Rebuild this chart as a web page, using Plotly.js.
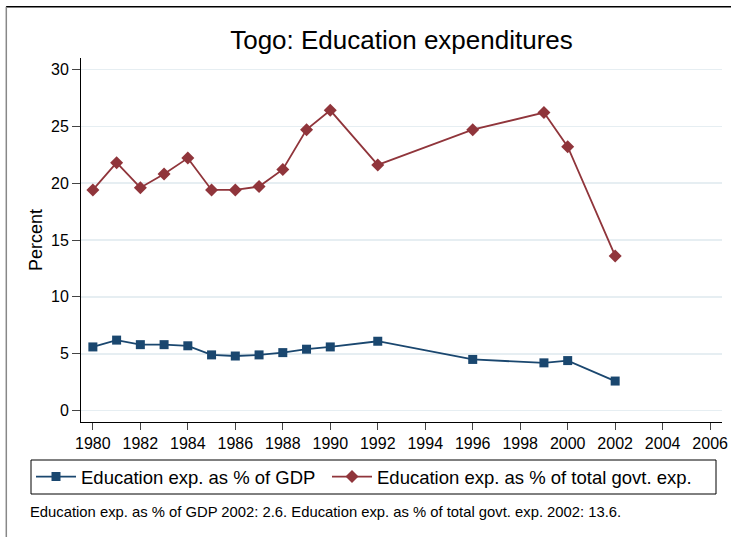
<!DOCTYPE html>
<html>
<head>
<meta charset="utf-8">
<script src="https://cdn.plot.ly/plotly-3.0.1.min.js"></script>
<style>html,body{margin:0;padding:0;background:#fff;}#chart{width:731px;height:537px;}</style>
</head>
<body>
<div id="chart"></div>
<script>
var yearsGdp = [1980,1981,1982,1983,1984,1985,1986,1987,1988,1989,1990,1992,1996,1999,2000,2002];
var eduGdp   = [5.6,6.2,5.8,5.8,5.7,4.9,4.8,4.9,5.1,5.4,5.6,6.1,4.5,4.2,4.4,2.6];
var yearsGov = [1980,1981,1982,1983,1984,1985,1986,1987,1988,1989,1990,1992,1996,1999,2000,2002];
var eduGov   = [19.4,21.8,19.6,20.8,22.2,19.4,19.4,19.7,21.2,24.7,26.4,21.6,24.7,26.2,23.2,13.6];
var xTicks = [1980,1982,1984,1986,1988,1990,1992,1994,1996,1998,2000,2002,2004,2006];
var yTicks = [0,5,10,15,20,25,30];
var seriesNames = ["Education exp. as % of GDP","Education exp. as % of total govt. exp."];
var noteText = "Education exp. as % of GDP 2002: 2.6. Education exp. as % of total govt. exp. 2002: 13.6.";
var titleText = "Togo: Education expenditures";

var FONT = "Liberation Sans, Arial, sans-serif";
var navy = "#1a476f", maroon = "#90353b";

var traces = [
  {x: yearsGdp, y: eduGdp, name: seriesNames[0], type: "scatter", mode: "lines+markers", legend: "legend",
   line: {color: navy, width: 1.8}, marker: {symbol: "square", size: 9, color: navy}},
  {x: yearsGov, y: eduGov, name: seriesNames[1], type: "scatter", mode: "lines+markers", legend: "legend2",
   line: {color: maroon, width: 1.8}, marker: {symbol: "diamond", size: 10, color: maroon}}
];

function px2x(p) { return (p - 81) / 641; }
function px2y(p) { return (422 - p) / 364; }

var legendCommon = {orientation: "h", xanchor: "left", y: px2y(477), yanchor: "middle",
  borderwidth: 0, bgcolor: "rgba(0,0,0,0)", font: {family: FONT, size: 18.5, color: "#000"}, itemwidth: 40};

var layout = {
  width: 731, height: 537,
  margin: {l: 81, r: 9, t: 58, b: 115},
  paper_bgcolor: "#fff", plot_bgcolor: "#fff",
  font: {family: FONT, color: "#000"},
  showlegend: true,
  title: {text: titleText, x: 0.5, xref: "paper", xanchor: "center", y: 1 - 40/537, yref: "container", yanchor: "middle",
          font: {family: FONT, size: 26, color: "#000"}},
  xaxis: {range: [1979.5, 2006.5], tickmode: "array", tickvals: xTicks, ticktext: xTicks.map(String),
          showgrid: false, zeroline: false, showline: true, linecolor: "#000", linewidth: 1,
          ticks: "outside", ticklen: 7, tickcolor: "#444", tickwidth: 1,
          tickfont: {family: FONT, size: 16, color: "#000"}},
  yaxis: {range: [-1, 31], tickmode: "array", tickvals: yTicks, ticktext: yTicks.map(String),
          showgrid: true, gridcolor: "#e6eef2", gridwidth: 1.5, zeroline: false,
          showline: true, linecolor: "#000", linewidth: 1,
          ticks: "outside", ticklen: 8, tickcolor: "#444", tickwidth: 1,
          tickfont: {family: FONT, size: 16, color: "#000"},
          title: {text: "Percent", font: {family: FONT, size: 18, color: "#000"}, standoff: 3}},
  legend: Object.assign({}, legendCommon, {x: px2x(31)}),
  legend2: Object.assign({}, legendCommon, {x: px2x(327)}),
  annotations: [{text: noteText, xref: "paper", yref: "paper", x: px2x(28), y: px2y(512),
                 xanchor: "left", yanchor: "middle", showarrow: false,
                 font: {family: FONT, size: 14.8, color: "#000"}}],
  shapes: [
    {type: "rect", xref: "paper", yref: "paper", x0: px2x(31), x1: px2x(716), y0: px2y(460), y1: px2y(494),
     line: {color: "#000", width: 1}, fillcolor: "rgba(0,0,0,0)"},
    {type: "line", xref: "paper", yref: "paper", x0: px2x(6), x1: px2x(740), y0: px2y(6.7), y1: px2y(6.7),
     line: {color: "#000", width: 1.5}},
    {type: "line", xref: "paper", yref: "paper", x0: px2x(6.3), x1: px2x(6.3), y0: px2y(6.7), y1: px2y(545),
     line: {color: "#888", width: 1.5}}
  ]
};

Plotly.newPlot("chart", traces, layout, {displayModeBar: false, staticPlot: true});
</script>
</body>
</html>
